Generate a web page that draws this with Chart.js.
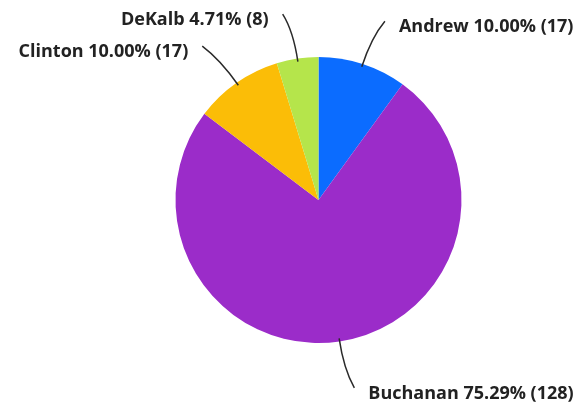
<!DOCTYPE html>
<html>
<head>
<meta charset="utf-8">
<script src="https://cdn.jsdelivr.net/npm/chart.js@4"></script>
<style>
  html, body { margin: 0; padding: 0; background: #fff; }
  #wrap { width: 585px; height: 407px; }
</style>
</head>
<body>
<div id="wrap"><canvas id="pie-chart"></canvas></div>
<script>
const labels = ['Andrew', 'Buchanan', 'Clinton', 'DeKalb'];
const counts = [17, 128, 17, 8];
const colors = ['#0b6cff', '#9b2cc9', '#fbbd07', '#b5e54b'];

const total = counts.reduce((a, b) => a + b, 0);

// leader lines + labels outside the slices
const outsideLabels = {
  id: 'outsideLabels',
  afterDatasetsDraw(chart) {
    const c = chart.ctx;
    const arcs = chart.getDatasetMeta(0).data;
    c.save();
    c.font = 'bold 18px "Open Sans"';
    c.fillStyle = '#222';
    c.strokeStyle = '#2a2a2a';
    c.lineWidth = 1.5;
    c.textBaseline = 'middle';
    arcs.forEach((arc, i) => {
      const p = arc.getProps(['x', 'y', 'startAngle', 'endAngle', 'outerRadius'], true);
      const a = (p.startAngle + p.endAngle) / 2;
      const cos = Math.cos(a), sin = Math.sin(a);
      const side = cos >= 0 ? 1 : -1;
      const r = p.outerRadius;
      const x0 = p.x + cos * (r - 3), y0 = p.y + sin * (r - 3);
      const xc = p.x + cos * (r + 28), yc = p.y + sin * (r + 28);
      const x1 = p.x + cos * (r + 46) + side * 8, y1 = p.y + sin * (r + 46) + 1;
      c.beginPath();
      c.moveTo(x0, y0);
      c.quadraticCurveTo(xc, yc, x1, y1);
      c.stroke();
      const pct = (counts[i] / total * 100).toFixed(2);
      const txt = labels[i] + ' ' + pct + '% (' + counts[i] + ')';
      c.textAlign = side > 0 ? 'left' : 'right';
      c.fillText(txt, x1 + side * 14, y1 + 6);
    });
    c.restore();
  }
};

new Chart(document.getElementById('pie-chart'), {
  type: 'pie',
  data: {
    labels: labels,
    datasets: [{
      data: counts,
      backgroundColor: colors,
      borderWidth: 0
    }]
  },
  options: {
    responsive: true,
    maintainAspectRatio: false,
    animation: false,
    layout: { padding: { top: 57, bottom: 64, left: 175, right: 123 } },
    plugins: {
      legend: { display: false },
      tooltip: { enabled: false }
    }
  },
  plugins: [outsideLabels]
});
</script>
</body>
</html>
